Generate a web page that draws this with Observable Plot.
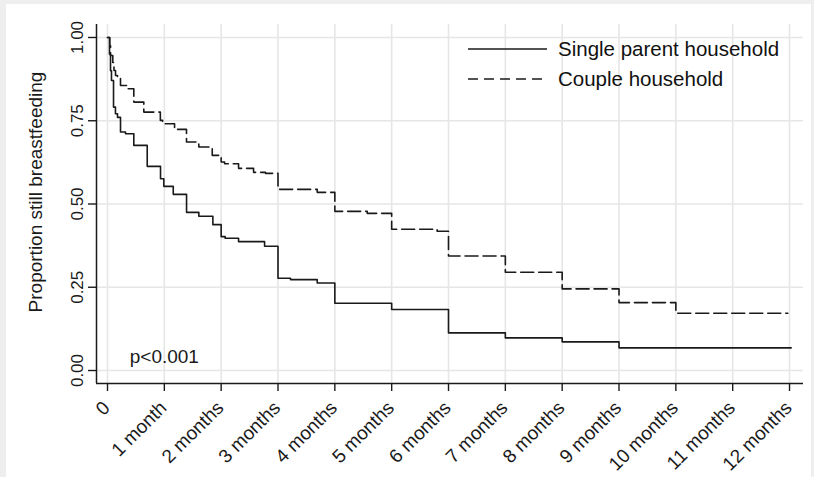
<!DOCTYPE html>
<html>
<head>
<meta charset="utf-8">
<script src="https://cdn.jsdelivr.net/npm/d3@7"></script>
<script src="https://cdn.jsdelivr.net/npm/@observablehq/plot@0.6"></script>
<style>
  html, body { margin: 0; padding: 0; background: #ffffff; }
  #wrap { position: relative; width: 814px; height: 477px; font-family: "Liberation Sans", Arial, Helvetica, sans-serif; }
  #wrap svg.plot { display: block; background: #ffffff; box-shadow: inset 6px 4px 0 #eeeeee, inset -3px 0 0 #eeeeee; }
  #legend { position: absolute; left: 468px; top: 34px; font-size: 20.5px; color: #111; }
  #legend .row { display: flex; align-items: center; height: 30px; }
  #legend svg { margin-right: 11px; }
</style>
</head>
<body>
<div id="wrap"></div>
<script>
// ---- data ----
const xTicks = [0, 1, 2, 3, 4, 5, 6, 7, 8, 9, 10, 11, 12];
const xTickLabels = ["0", "1 month", "2 months", "3 months", "4 months", "5 months", "6 months",
  "7 months", "8 months", "9 months", "10 months", "11 months", "12 months"];
const yTicks = [0, 0.25, 0.5, 0.75, 1];
const yTickLabels = ["0.00", "0.25", "0.50", "0.75", "1.00"];
const yTitle = "Proportion still breastfeeding";
const seriesNames = ["Single parent household", "Couple household"];

const singleTime = [0, 0.035, 0.053, 0.07, 0.106, 0.14, 0.176, 0.229, 0.317, 0.463, 0.699, 0.933, 0.991,
  1.157, 1.391, 1.607, 1.854, 2.0, 2.07, 2.306, 2.764, 3.0, 3.22, 3.69, 4.0, 5.0, 6.0, 7.0, 8.0, 9.0, 12.03];
const singleSurv = [1, 0.95, 0.90, 0.871, 0.791, 0.771, 0.760, 0.716, 0.711, 0.676, 0.613, 0.576, 0.553,
  0.529, 0.475, 0.463, 0.438, 0.402, 0.397, 0.387, 0.373, 0.277, 0.273, 0.263, 0.202, 0.183, 0.113, 0.098, 0.086, 0.068, 0.068];

const coupleTime = [0, 0.04, 0.053, 0.093, 0.114, 0.141, 0.176, 0.229, 0.347, 0.463, 0.639, 0.93, 0.97,
  1.18, 1.39, 1.607, 1.843, 2.0, 2.06, 2.306, 2.57, 2.78, 3.0, 3.69, 4.0, 4.57, 5.0, 5.8, 6.0, 7.0, 8.0, 9.0, 10.0, 11.97];
const coupleSurv = [1, 0.976, 0.946, 0.925, 0.901, 0.886, 0.880, 0.856, 0.846, 0.806, 0.776, 0.751, 0.741,
  0.724, 0.686, 0.671, 0.646, 0.626, 0.621, 0.607, 0.595, 0.592, 0.544, 0.535, 0.478, 0.472, 0.424, 0.418, 0.344, 0.295, 0.245, 0.204, 0.172, 0.172];

const annotationText = ["p<0.001"];
const annotationX = [1];
const annotationY = [0.04];

// ---- build tables ----
const single = singleTime.map((t, i) => ({t, s: singleSurv[i]}));
const couple = coupleTime.map((t, i) => ({t, s: coupleSurv[i]}));
const annot = annotationText.map((text, i) => ({text, x: annotationX[i], y: annotationY[i]}));

const xDomain = [-0.1935, 12.246];
const yDomain = [-0.039, 1.039];
const ink = "#1a1a1a";
const gridColor = "#e6e6e6";

const chart = Plot.plot({
  width: 814,
  height: 477,
  marginLeft: 96,
  marginRight: 11,
  marginTop: 24,
  marginBottom: 94,
  style: {fontFamily: '"Liberation Sans", Arial, Helvetica, sans-serif', background: "#ffffff"},
  x: {domain: xDomain, axis: null},
  y: {domain: yDomain, axis: null},
  marks: [
    Plot.gridX(xTicks, {stroke: gridColor, strokeOpacity: 1, strokeWidth: 1.6}),
    Plot.gridY(yTicks, {stroke: gridColor, strokeOpacity: 1, strokeWidth: 1.6}),
    Plot.axisX(xTicks, {tickSize: 8, tickFormat: () => "", label: null, stroke: ink, strokeWidth: 1.4}),
    Plot.axisY(yTicks, {tickSize: 8, tickFormat: () => "", label: null, stroke: ink, strokeWidth: 1.4}),
    Plot.ruleX([xDomain[0]], {stroke: ink, strokeWidth: 1.5}),
    Plot.ruleY([yDomain[0]], {stroke: ink, strokeWidth: 1.5}),
    Plot.text(xTicks, {x: d => d, frameAnchor: "bottom", text: (d, i) => xTickLabels[i],
      rotate: -45, textAnchor: "end", dx: 3.5, dy: 25.5, fontSize: 19, fill: ink}),
    Plot.text(yTicks, {y: d => d, frameAnchor: "left", text: (d, i) => yTickLabels[i],
      rotate: -90, textAnchor: "middle", dx: -19, fontSize: 17, fill: ink}),
    Plot.text([yTitle], {frameAnchor: "left", text: d => d, rotate: -90, textAnchor: "middle",
      dx: -61, dy: -12, fontSize: 19, fill: ink}),
    Plot.line(couple, {x: "t", y: "s", curve: "step-after", stroke: ink, strokeWidth: 1.6, strokeDasharray: "13,5"}),
    Plot.line(single, {x: "t", y: "s", curve: "step-after", stroke: ink, strokeWidth: 1.6}),
    Plot.text(annot, {x: "x", y: "y", text: "text", fontSize: 19, fill: ink, textAnchor: "middle"})
  ]
});
chart.classList.add("plot");
document.getElementById("wrap").appendChild(chart);

// legend (HTML overlay)
const legend = document.createElement("div");
legend.id = "legend";
const dashes = [null, "10,6"];
seriesNames.forEach((name, i) => {
  const row = document.createElement("div");
  row.className = "row";
  const sw = d3.create("svg").attr("width", 79).attr("height", 10);
  sw.append("line").attr("x1", 0).attr("x2", 79).attr("y1", 5).attr("y2", 5)
    .attr("stroke", ink).attr("stroke-width", 1.6)
    .attr("stroke-dasharray", dashes[i]);
  row.appendChild(sw.node());
  const span = document.createElement("span");
  span.textContent = name;
  row.appendChild(span);
  legend.appendChild(row);
});
document.getElementById("wrap").appendChild(legend);
</script>
</body>
</html>
